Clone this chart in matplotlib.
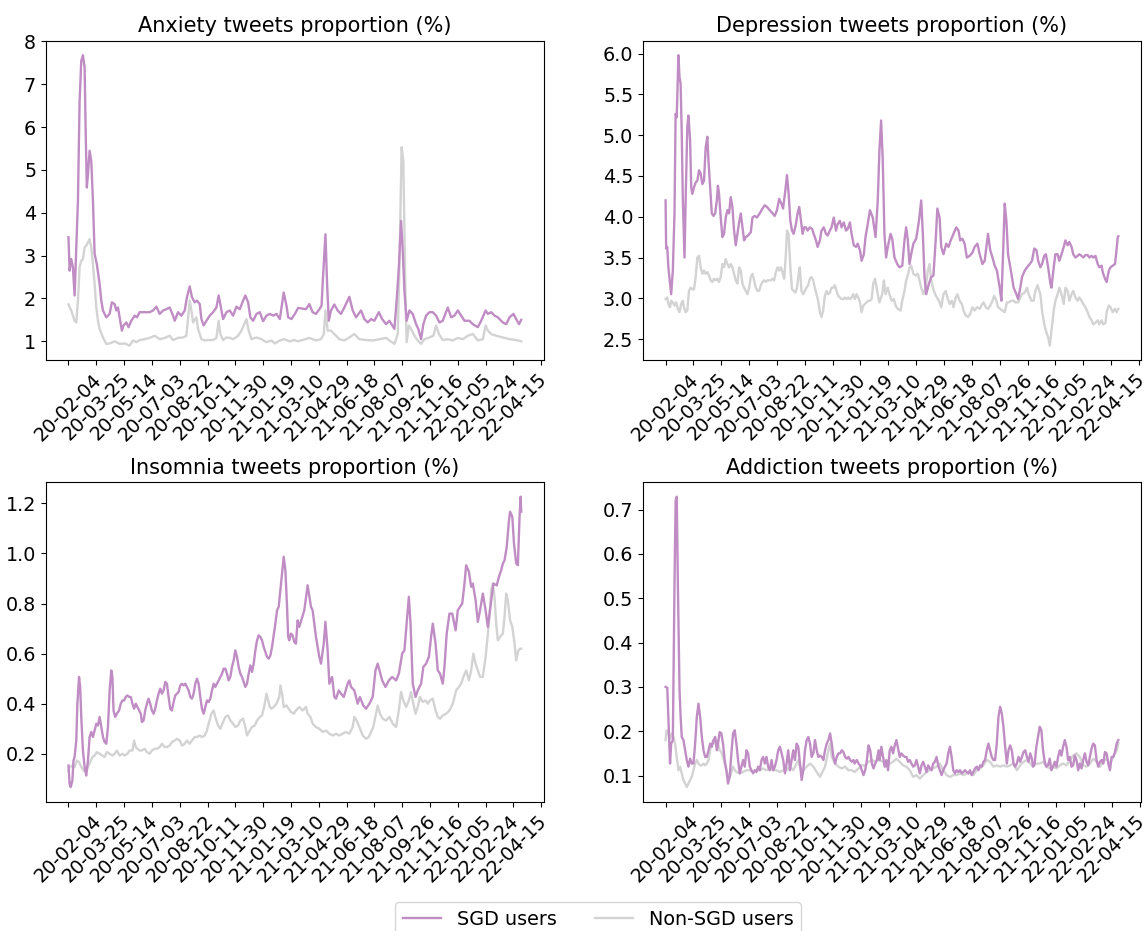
import matplotlib
matplotlib.use("Agg")
import matplotlib.pyplot as plt
import numpy as np

# x axis: day index from 2020-02-04, labels every 50 days
tick_labels = ['20-02-04', '20-03-25', '20-05-14', '20-07-03', '20-08-22', '20-10-11',
               '20-11-30', '21-01-19', '21-03-10', '21-04-29', '21-06-18', '21-08-07',
               '21-09-26', '21-11-16', '22-01-05', '22-02-24', '22-04-15']

# Anxiety
anx_sgd_day = [0, 2, 5, 8, 11, 17, 20, 23, 26, 29, 31, 33, 35, 38, 41, 44, 47, 51, 56, 59, 62, 68, 74, 78,
               83, 86, 89, 92, 96, 99, 104, 108, 113, 119, 123, 128, 134, 140, 146, 152, 158, 164, 170,
               176, 182, 188, 191, 197, 203, 209, 213, 218, 222, 227, 231, 236, 239, 243, 248, 254, 260,
               266, 270, 275, 278, 284, 290, 296, 302, 308, 314, 318, 323, 327, 332, 338, 344, 350, 356,
               362, 368, 374, 380, 383, 387, 392, 395, 401, 407, 413, 427, 433, 439, 445, 451, 455, 457,
               462, 465, 468, 472, 478, 484, 490, 496, 505, 511, 517, 526, 532, 538, 544, 550, 558, 564,
               571, 577, 586, 590, 594, 598, 601, 604, 608, 613, 619, 625, 629, 634, 638, 643, 649, 655,
               661, 667, 673, 682, 688, 694, 700, 706, 712, 721, 727, 736, 742, 750, 754, 760, 766, 772,
               781, 787, 793, 800, 805, 810, 814]
anx_sgd = [3.43, 2.65, 2.92, 2.73, 2.07, 4.28, 6.61, 7.55, 7.68, 7.39, 5.84, 4.59, 4.90, 5.45, 5.21, 4.28,
           3.04, 2.80, 2.34, 1.95, 1.72, 1.56, 1.64, 1.91, 1.87, 1.72, 1.79, 1.56, 1.25, 1.37, 1.44, 1.33,
           1.48, 1.60, 1.56, 1.68, 1.68, 1.68, 1.68, 1.72, 1.81, 1.64, 1.72, 1.75, 1.79, 1.60, 1.48, 1.68,
           1.60, 1.72, 2.03, 2.28, 2.03, 1.91, 1.95, 1.87, 1.52, 1.37, 1.48, 1.60, 1.68, 1.79, 2.07, 1.72,
           1.52, 1.68, 1.72, 1.60, 1.81, 1.75, 1.95, 2.07, 1.91, 1.56, 1.48, 1.64, 1.68, 1.47, 1.60, 1.64,
           1.60, 1.64, 1.52, 1.79, 2.14, 1.83, 1.56, 1.52, 1.64, 1.78, 1.75, 1.87, 1.68, 1.64, 1.75, 1.83,
           2.34, 3.50, 2.34, 1.48, 1.72, 1.86, 1.72, 1.64, 1.79, 2.04, 1.72, 1.56, 1.72, 1.52, 1.44, 1.52,
           1.48, 1.68, 1.52, 1.40, 1.48, 1.29, 1.95, 2.73, 3.81, 3.12, 2.18, 1.48, 1.72, 1.64, 1.40, 1.29,
           1.05, 1.40, 1.60, 1.68, 1.68, 1.60, 1.44, 1.48, 1.79, 1.56, 1.60, 1.72, 1.60, 1.48, 1.48, 1.40,
           1.33, 1.48, 1.72, 1.64, 1.68, 1.60, 1.56, 1.44, 1.40, 1.56, 1.64, 1.52, 1.40, 1.50]
anx_non_day = [0, 5, 11, 14, 17, 20, 23, 26, 29, 32, 35, 38, 41, 44, 47, 50, 53, 56, 62, 68, 74, 83, 92,
               101, 110, 116, 122, 128, 137, 146, 155, 164, 173, 182, 188, 197, 206, 212, 218, 221, 224,
               230, 233, 239, 245, 251, 260, 266, 270, 273, 278, 284, 290, 296, 305, 311, 320, 324, 329,
               338, 347, 356, 365, 371, 380, 388, 397, 406, 412, 421, 433, 445, 454, 459, 462, 466, 472,
               478, 487, 496, 505, 514, 523, 535, 547, 559, 571, 577, 586, 592, 595, 599, 602, 606, 608,
               612, 616, 622, 628, 634, 640, 649, 656, 661, 666, 673, 682, 691, 700, 709, 718, 727, 736,
               745, 750, 754, 760, 769, 781, 793, 805, 814]
anx_non = [1.86, 1.72, 1.48, 1.44, 1.95, 2.73, 2.88, 2.92, 3.19, 3.23, 3.31, 3.39, 3.19, 2.80, 2.34, 1.79,
           1.48, 1.29, 1.09, 0.94, 0.95, 1.00, 0.94, 0.95, 0.90, 1.02, 0.98, 1.03, 1.05, 1.08, 1.13, 1.05,
           1.08, 1.13, 1.03, 1.08, 1.09, 1.13, 1.95, 1.72, 1.44, 1.56, 1.29, 1.05, 1.02, 1.03, 1.03, 1.08,
           1.48, 1.17, 1.03, 1.09, 1.08, 1.05, 1.13, 1.25, 1.52, 1.25, 1.05, 1.09, 1.05, 0.98, 1.02, 0.95,
           1.02, 1.05, 1.00, 1.03, 1.00, 1.03, 1.08, 1.02, 1.05, 1.17, 1.72, 1.25, 1.25, 1.17, 1.05, 1.02,
           1.09, 1.17, 1.05, 1.03, 1.02, 1.05, 1.08, 1.02, 0.94, 1.17, 2.73, 5.53, 5.21, 1.95, 0.98, 1.37,
           1.29, 1.13, 1.02, 0.94, 1.05, 1.09, 1.13, 1.37, 1.17, 1.03, 1.05, 1.02, 1.08, 1.05, 1.13, 1.17,
           1.02, 1.05, 1.37, 1.25, 1.17, 1.13, 1.09, 1.05, 1.03, 1.00]

# Depression
dep_sgd_day = [0, 1, 3, 5, 8, 10, 13, 16, 18, 20, 22, 23, 25, 27, 29, 31, 34, 36, 39, 41, 44, 46, 48, 51,
               54, 57, 60, 63, 66, 69, 72, 75, 77, 80, 83, 86, 89, 92, 94, 96, 99, 102, 105, 108, 111, 114,
               117, 120, 123, 126, 129, 132, 135, 138, 141, 144, 148, 153, 156, 160, 164, 169, 174, 178,
               182, 187, 192, 196, 200, 204, 208, 211, 215, 218, 221, 224, 227, 230, 234, 237, 240, 243,
               246, 249, 252, 255, 259, 263, 266, 270, 273, 277, 280, 284, 288, 291, 295, 298, 302, 306,
               309, 313, 316, 320, 324, 327, 331, 334, 338, 342, 345, 349, 352, 356, 359, 363, 367, 372,
               377, 381, 384, 387, 390, 393, 396, 399, 404, 407, 411, 416, 420, 425, 429, 432, 435, 438,
               441, 445, 450, 455, 459, 462, 465, 468, 473, 477, 481, 485, 488, 492, 495, 499, 504, 508,
               512, 517, 522, 526, 529, 533, 537, 541, 546, 551, 555, 560, 564, 569, 573, 576, 579, 583,
               587, 591, 595, 600, 603, 606, 609, 612, 615, 618, 621, 625, 630, 633, 637, 640, 645, 649,
               654, 658, 662, 666, 669, 673, 676, 680, 683, 687, 691, 693, 697, 700, 704, 707, 711, 715,
               718, 722, 725, 729, 732, 736, 740, 743, 747, 750, 754, 758, 761, 765, 768, 772, 776, 779,
               783, 785, 789, 792, 796, 799, 803, 807, 809, 812, 813]
dep_sgd = [4.20, 3.61, 3.63, 3.38, 3.18, 3.05, 3.34, 4.04, 5.26, 5.22, 5.75, 5.98, 5.71, 5.63, 5.02, 4.20,
           3.50, 4.20, 5.10, 5.24, 4.94, 4.36, 4.28, 4.36, 4.42, 4.44, 4.57, 4.53, 4.40, 4.44, 4.85, 4.98,
           4.69, 4.36, 4.04, 4.01, 4.04, 4.20, 4.38, 4.28, 3.99, 3.75, 3.79, 3.99, 4.08, 4.04, 4.24, 4.12,
           3.83, 3.65, 3.79, 3.93, 4.04, 3.87, 3.71, 3.75, 3.77, 3.81, 3.99, 4.01, 3.99, 4.04, 4.10, 4.14,
           4.12, 4.08, 4.04, 4.01, 4.08, 4.22, 4.16, 4.10, 4.32, 4.51, 4.28, 3.95, 3.83, 3.79, 3.91, 4.04,
           4.12, 3.95, 3.79, 3.87, 3.87, 3.83, 3.87, 3.85, 3.79, 3.71, 3.63, 3.71, 3.83, 3.87, 3.79, 3.77,
           3.83, 3.87, 3.99, 3.83, 3.91, 3.95, 3.87, 3.93, 3.83, 3.85, 3.93, 3.79, 3.65, 3.63, 3.67, 3.59,
           3.46, 3.54, 3.75, 3.91, 4.08, 3.99, 3.75, 4.20, 4.81, 5.18, 4.69, 3.79, 3.50, 3.63, 3.79, 3.73,
           3.50, 3.42, 3.38, 3.40, 3.71, 3.87, 3.71, 3.42, 3.54, 3.67, 3.73, 3.95, 4.20, 3.79, 3.26, 3.05,
           3.18, 3.26, 3.28, 3.71, 4.10, 3.99, 3.63, 3.54, 3.67, 3.63, 3.71, 3.79, 3.87, 3.83, 3.71, 3.73,
           3.67, 3.50, 3.52, 3.56, 3.63, 3.67, 3.54, 3.42, 3.46, 3.63, 3.79, 3.59, 3.50, 3.40, 3.34, 3.13,
           2.97, 3.54, 4.16, 3.95, 3.54, 3.42, 3.30, 3.13, 3.05, 2.99, 3.13, 3.26, 3.34, 3.38, 3.42, 3.46,
           3.61, 3.59, 3.46, 3.38, 3.42, 3.52, 3.54, 3.38, 3.18, 3.13, 3.38, 3.54, 3.54, 3.46, 3.54, 3.63,
           3.71, 3.65, 3.69, 3.63, 3.54, 3.50, 3.52, 3.54, 3.52, 3.50, 3.53, 3.53, 3.50, 3.52, 3.50, 3.52,
           3.42, 3.38, 3.40, 3.32, 3.24, 3.20, 3.34, 3.38, 3.40, 3.42, 3.54, 3.75, 3.76]
dep_non_day = [0, 3, 5, 8, 10, 13, 16, 19, 22, 25, 28, 31, 33, 36, 39, 42, 45, 48, 51, 54, 57, 60, 63, 66,
               69, 72, 75, 78, 81, 84, 87, 90, 93, 96, 99, 102, 105, 108, 111, 114, 117, 120, 123, 126,
               129, 132, 135, 138, 141, 144, 147, 150, 153, 156, 159, 162, 165, 168, 171, 174, 177, 180,
               183, 186, 189, 192, 195, 198, 201, 204, 207, 210, 213, 216, 218, 221, 224, 227, 230, 233,
               236, 239, 241, 244, 247, 250, 253, 256, 259, 262, 265, 268, 271, 274, 277, 280, 283, 286,
               289, 292, 295, 298, 301, 304, 307, 310, 313, 316, 319, 322, 325, 328, 331, 334, 337, 340,
               343, 346, 349, 352, 355, 358, 361, 364, 367, 370, 373, 376, 379, 382, 384, 389, 392, 395,
               399, 402, 406, 410, 413, 417, 422, 425, 429, 432, 435, 438, 441, 445, 449, 453, 456, 459,
               463, 467, 471, 474, 477, 480, 484, 487, 491, 495, 499, 503, 506, 510, 514, 517, 521, 524,
               528, 532, 535, 539, 543, 547, 551, 555, 559, 564, 567, 571, 575, 579, 583, 587, 590, 594,
               597, 601, 605, 609, 613, 616, 621, 625, 628, 633, 637, 640, 645, 649, 652, 657, 661, 664,
               668, 673, 676, 680, 683, 687, 690, 693, 697, 700, 704, 707, 711, 715, 718, 722, 725, 729,
               732, 736, 740, 743, 747, 750, 754, 758, 761, 765, 768, 772, 776, 779, 783, 786, 790, 792,
               796, 799, 803, 807, 810, 813]
dep_non = [2.99, 3.01, 2.93, 2.89, 2.97, 2.95, 2.91, 2.95, 2.87, 2.83, 2.93, 2.97, 2.89, 2.83, 2.85, 3.09,
           3.13, 3.11, 3.11, 3.26, 3.50, 3.52, 3.38, 3.30, 3.34, 3.30, 3.32, 3.28, 3.22, 3.20, 3.24, 3.22,
           3.24, 3.20, 3.26, 3.42, 3.38, 3.48, 3.42, 3.38, 3.42, 3.38, 3.30, 3.22, 3.18, 3.38, 3.34, 3.18,
           3.13, 3.09, 3.05, 3.13, 3.26, 3.30, 3.22, 3.13, 3.09, 3.09, 3.16, 3.20, 3.22, 3.20, 3.22, 3.22,
           3.22, 3.24, 3.22, 3.32, 3.38, 3.34, 3.38, 3.32, 3.24, 3.54, 3.83, 3.79, 3.38, 3.11, 3.09, 3.07,
           3.13, 3.30, 3.38, 3.09, 3.05, 3.09, 3.13, 3.16, 3.24, 3.26, 3.22, 3.13, 3.05, 2.97, 2.83, 2.77,
           2.85, 3.03, 3.09, 3.05, 3.07, 3.13, 3.13, 3.16, 3.09, 3.03, 3.01, 2.99, 2.99, 3.01, 2.99, 3.01,
           2.99, 3.01, 3.05, 2.99, 3.05, 3.01, 2.95, 2.83, 2.91, 2.93, 2.95, 2.97, 2.97, 2.99, 3.18, 3.24,
           3.13, 3.01, 2.95, 3.05, 3.22, 3.05, 3.13, 3.05, 2.97, 2.99, 2.91, 2.87, 2.85, 2.97, 3.09, 3.22,
           3.28, 3.38, 3.40, 3.30, 3.28, 3.30, 3.22, 3.13, 3.05, 3.13, 3.34, 3.42, 3.22, 3.13, 3.05, 3.01,
           2.97, 2.89, 3.05, 3.09, 3.01, 2.93, 2.97, 2.89, 3.01, 3.05, 2.97, 2.93, 2.85, 2.79, 2.77, 2.81,
           2.89, 2.85, 2.89, 2.87, 2.91, 2.95, 2.89, 2.87, 2.91, 2.97, 3.03, 2.97, 2.89, 2.87, 2.85, 2.83,
           2.95, 2.95, 2.97, 2.97, 2.95, 2.95, 3.01, 3.05, 3.07, 3.13, 3.05, 2.97, 2.97, 3.09, 3.16, 3.05,
           2.85, 2.68, 2.60, 2.52, 2.42, 2.60, 2.85, 2.97, 3.05, 3.13, 3.05, 2.93, 3.13, 3.09, 2.97, 3.05,
           3.09, 3.01, 2.97, 3.01, 2.97, 2.93, 2.89, 2.83, 2.77, 2.73, 2.68, 2.70, 2.73, 2.68, 2.73, 2.68,
           2.70, 2.83, 2.91, 2.89, 2.83, 2.87, 2.83, 2.87]

# Insomnia
ins_sgd_day = [0, 2, 4, 7, 9, 11, 14, 16, 19, 21, 23, 26, 29, 32, 35, 38, 41, 44, 47, 50, 53, 56, 59, 62,
               65, 68, 71, 74, 77, 79, 81, 84, 87, 91, 94, 97, 100, 103, 106, 109, 112, 115, 118, 121,
               124, 127, 130, 132, 135, 138, 141, 144, 147, 150, 153, 156, 159, 162, 165, 168, 171, 174,
               177, 180, 183, 186, 189, 192, 195, 198, 201, 204, 207, 210, 213, 216, 219, 222, 225, 228,
               231, 234, 237, 240, 243, 246, 249, 252, 255, 258, 261, 264, 267, 270, 273, 276, 279, 282,
               285, 288, 291, 294, 297, 300, 303, 306, 309, 312, 315, 318, 321, 324, 327, 330, 333, 336,
               339, 342, 345, 348, 351, 354, 357, 360, 363, 366, 369, 372, 375, 378, 381, 384, 387, 390,
               393, 395, 397, 400, 403, 406, 409, 412, 415, 424, 430, 436, 439, 445, 451, 454, 459, 462,
               466, 469, 474, 478, 481, 486, 490, 495, 502, 505, 508, 514, 520, 524, 530, 535, 541, 547,
               552, 556, 564, 570, 576, 582, 589, 594, 600, 604, 608, 612, 615, 619, 624, 628, 634, 638,
               643, 648, 652, 655, 660, 664, 668, 673, 676, 680, 685, 690, 696, 700, 704, 708, 712, 715,
               720, 724, 727, 732, 736, 740, 745, 750, 754, 764, 770, 774, 778, 781, 784, 788, 792, 794,
               798, 801, 805, 808, 811, 813, 814]
ins_sgd = [0.153, 0.080, 0.067, 0.093, 0.173, 0.187, 0.253, 0.400, 0.507, 0.467, 0.347, 0.213, 0.147,
           0.113, 0.173, 0.267, 0.287, 0.267, 0.293, 0.320, 0.313, 0.347, 0.307, 0.267, 0.247, 0.240,
           0.307, 0.453, 0.533, 0.507, 0.373, 0.347, 0.360, 0.373, 0.400, 0.413, 0.413, 0.427, 0.433,
           0.427, 0.427, 0.400, 0.380, 0.400, 0.387, 0.373, 0.360, 0.327, 0.333, 0.373, 0.400, 0.420,
           0.400, 0.373, 0.360, 0.380, 0.413, 0.440, 0.460, 0.440, 0.453, 0.487, 0.480, 0.427, 0.380,
           0.373, 0.407, 0.433, 0.440, 0.447, 0.473, 0.480, 0.473, 0.480, 0.467, 0.453, 0.427, 0.420,
           0.440, 0.480, 0.500, 0.480, 0.427, 0.380, 0.360, 0.387, 0.413, 0.407, 0.420, 0.453, 0.480,
           0.467, 0.480, 0.493, 0.507, 0.520, 0.540, 0.540, 0.520, 0.493, 0.507, 0.547, 0.573, 0.613,
           0.587, 0.547, 0.520, 0.507, 0.487, 0.467, 0.480, 0.520, 0.553, 0.527, 0.560, 0.613, 0.653,
           0.673, 0.667, 0.653, 0.627, 0.607, 0.587, 0.580, 0.593, 0.627, 0.673, 0.720, 0.773, 0.787,
           0.853, 0.920, 0.987, 0.933, 0.787, 0.667, 0.653, 0.680, 0.673, 0.647, 0.640, 0.733, 0.707,
           0.773, 0.873, 0.787, 0.773, 0.667, 0.587, 0.560, 0.640, 0.727, 0.613, 0.480, 0.507, 0.427,
           0.420, 0.453, 0.440, 0.427, 0.480, 0.493, 0.467, 0.453, 0.400, 0.427, 0.393, 0.380, 0.400,
           0.427, 0.533, 0.560, 0.493, 0.467, 0.493, 0.507, 0.493, 0.520, 0.600, 0.613, 0.720, 0.827,
           0.720, 0.480, 0.427, 0.453, 0.480, 0.547, 0.560, 0.587, 0.667, 0.720, 0.640, 0.533, 0.520,
           0.480, 0.547, 0.680, 0.760, 0.760, 0.693, 0.773, 0.787, 0.800, 0.880, 0.953, 0.927, 0.867,
           0.880, 0.813, 0.727, 0.773, 0.840, 0.773, 0.707, 0.880, 0.873, 0.907, 0.933, 0.960, 0.973,
           1.027, 1.133, 1.167, 1.147, 1.040, 0.960, 0.953, 1.147, 1.227, 1.167]
ins_non_day = [0, 2, 7, 11, 15, 19, 23, 27, 31, 35, 39, 43, 47, 51, 56, 61, 65, 69, 74, 79, 83, 87, 92, 97,
               101, 106, 110, 115, 118, 121, 124, 128, 132, 137, 141, 146, 150, 155, 159, 164, 168, 173,
               177, 182, 186, 191, 195, 200, 204, 209, 213, 218, 222, 227, 231, 236, 240, 245, 249, 252,
               257, 261, 264, 269, 273, 278, 282, 287, 291, 296, 300, 305, 309, 314, 318, 321, 326, 330,
               335, 339, 344, 348, 353, 356, 359, 362, 365, 369, 374, 379, 381, 384, 387, 392, 396, 400,
               405, 409, 415, 421, 427, 430, 435, 439, 445, 451, 457, 463, 469, 475, 481, 487, 493, 499,
               505, 511, 514, 518, 523, 529, 535, 540, 544, 548, 553, 556, 560, 565, 571, 577, 583, 589,
               594, 598, 602, 607, 612, 616, 620, 624, 628, 632, 637, 642, 646, 650, 655, 660, 664, 668,
               673, 679, 685, 691, 697, 702, 706, 710, 715, 720, 724, 728, 732, 736, 740, 745, 750, 754,
               757, 760, 763, 766, 769, 772, 776, 781, 784, 787, 790, 794, 798, 802, 805, 809, 812, 814]
ins_non = [0.133, 0.147, 0.153, 0.147, 0.173, 0.167, 0.147, 0.133, 0.127, 0.147, 0.167, 0.187, 0.193,
           0.207, 0.200, 0.193, 0.187, 0.207, 0.200, 0.193, 0.200, 0.213, 0.193, 0.200, 0.193, 0.200,
           0.213, 0.213, 0.253, 0.227, 0.220, 0.213, 0.213, 0.220, 0.207, 0.200, 0.213, 0.220, 0.220,
           0.227, 0.240, 0.227, 0.227, 0.233, 0.247, 0.253, 0.260, 0.253, 0.233, 0.240, 0.253, 0.240,
           0.253, 0.267, 0.267, 0.273, 0.267, 0.273, 0.293, 0.320, 0.360, 0.373, 0.347, 0.313, 0.300,
           0.327, 0.347, 0.353, 0.333, 0.320, 0.307, 0.313, 0.333, 0.340, 0.307, 0.273, 0.293, 0.307,
           0.313, 0.333, 0.347, 0.353, 0.400, 0.440, 0.413, 0.387, 0.380, 0.387, 0.400, 0.427, 0.473,
           0.440, 0.387, 0.393, 0.380, 0.367, 0.360, 0.373, 0.387, 0.373, 0.387, 0.360, 0.347, 0.320,
           0.307, 0.300, 0.287, 0.293, 0.280, 0.273, 0.280, 0.273, 0.280, 0.287, 0.280, 0.307, 0.347,
           0.333, 0.307, 0.273, 0.260, 0.267, 0.287, 0.307, 0.360, 0.393, 0.360, 0.340, 0.333, 0.347,
           0.320, 0.307, 0.373, 0.447, 0.413, 0.387, 0.413, 0.447, 0.400, 0.360, 0.387, 0.427, 0.407,
           0.413, 0.400, 0.413, 0.420, 0.373, 0.347, 0.340, 0.353, 0.360, 0.373, 0.400, 0.453, 0.467,
           0.480, 0.507, 0.533, 0.493, 0.533, 0.600, 0.560, 0.533, 0.507, 0.507, 0.587, 0.680, 0.747,
           0.853, 0.880, 0.827, 0.720, 0.653, 0.667, 0.680, 0.747, 0.840, 0.813, 0.733, 0.707, 0.640,
           0.573, 0.613, 0.620, 0.620]

# Addiction
add_sgd_day = [0, 3, 5, 8, 10, 13, 16, 18, 20, 22, 25, 27, 29, 32, 35, 38, 41, 44, 47, 50, 53, 56, 59, 62,
               65, 68, 71, 74, 77, 80, 83, 86, 89, 92, 94, 97, 100, 103, 106, 109, 112, 115, 118, 121,
               124, 127, 130, 133, 136, 139, 142, 145, 148, 151, 154, 157, 160, 163, 166, 169, 172, 175,
               178, 181, 184, 187, 190, 193, 196, 199, 202, 205, 208, 211, 214, 217, 220, 223, 226, 229,
               232, 235, 238, 241, 244, 247, 250, 253, 256, 259, 262, 265, 268, 271, 274, 277, 280, 283,
               286, 289, 292, 295, 298, 301, 304, 307, 310, 313, 316, 319, 322, 325, 328, 331, 334, 337,
               339, 343, 346, 349, 352, 355, 358, 361, 364, 367, 370, 373, 376, 379, 382, 384, 387, 390,
               393, 396, 399, 402, 405, 408, 411, 414, 417, 420, 423, 426, 429, 432, 435, 438, 441, 444,
               447, 450, 453, 456, 459, 462, 465, 468, 471, 474, 477, 480, 483, 486, 489, 492, 495, 498,
               501, 504, 507, 510, 513, 516, 519, 522, 525, 528, 531, 534, 537, 540, 543, 546, 549, 552,
               555, 558, 561, 564, 567, 570, 573, 576, 579, 582, 585, 588, 591, 594, 597, 600, 603, 606,
               609, 612, 615, 618, 621, 624, 627, 630, 633, 636, 639, 642, 645, 648, 651, 654, 657, 659,
               662, 665, 668, 671, 674, 677, 680, 683, 686, 689, 692, 695, 698, 701, 704, 707, 710, 713,
               716, 719, 722, 725, 728, 731, 734, 737, 740, 743, 746, 749, 752, 755, 758, 761, 764, 767,
               770, 773, 776, 779, 782, 785, 788, 791, 794, 797, 800, 803, 806, 809, 812]
add_sgd = [0.300, 0.298, 0.232, 0.127, 0.172, 0.180, 0.533, 0.720, 0.729, 0.533, 0.292, 0.232, 0.187,
           0.180, 0.157, 0.135, 0.120, 0.138, 0.127, 0.127, 0.172, 0.232, 0.262, 0.232, 0.187, 0.157,
           0.142, 0.142, 0.157, 0.172, 0.165, 0.180, 0.187, 0.157, 0.172, 0.198, 0.195, 0.172, 0.135,
           0.112, 0.082, 0.097, 0.150, 0.195, 0.202, 0.172, 0.135, 0.105, 0.120, 0.135, 0.120, 0.157,
           0.150, 0.120, 0.112, 0.105, 0.112, 0.108, 0.120, 0.112, 0.135, 0.142, 0.127, 0.142, 0.120,
           0.112, 0.135, 0.112, 0.120, 0.135, 0.157, 0.165, 0.150, 0.135, 0.105, 0.127, 0.157, 0.112,
           0.135, 0.157, 0.135, 0.172, 0.165, 0.127, 0.090, 0.112, 0.157, 0.180, 0.187, 0.172, 0.142,
           0.150, 0.180, 0.157, 0.142, 0.145, 0.142, 0.135, 0.157, 0.172, 0.180, 0.195, 0.172, 0.142,
           0.127, 0.142, 0.150, 0.150, 0.157, 0.153, 0.142, 0.138, 0.142, 0.135, 0.131, 0.135, 0.127,
           0.135, 0.127, 0.123, 0.112, 0.101, 0.112, 0.135, 0.168, 0.157, 0.127, 0.116, 0.127, 0.135,
           0.157, 0.135, 0.165, 0.142, 0.120, 0.135, 0.112, 0.157, 0.165, 0.150, 0.168, 0.180, 0.161,
           0.142, 0.150, 0.145, 0.142, 0.142, 0.131, 0.135, 0.127, 0.120, 0.123, 0.135, 0.120, 0.105,
           0.123, 0.131, 0.120, 0.108, 0.123, 0.116, 0.112, 0.127, 0.131, 0.142, 0.123, 0.112, 0.101,
           0.112, 0.120, 0.127, 0.150, 0.165, 0.142, 0.112, 0.105, 0.112, 0.108, 0.112, 0.105, 0.108,
           0.112, 0.108, 0.105, 0.112, 0.101, 0.108, 0.116, 0.120, 0.112, 0.123, 0.120, 0.131, 0.135,
           0.157, 0.172, 0.157, 0.142, 0.135, 0.135, 0.172, 0.232, 0.255, 0.240, 0.210, 0.165, 0.127,
           0.157, 0.168, 0.157, 0.127, 0.120, 0.127, 0.142, 0.131, 0.142, 0.153, 0.157, 0.142, 0.131,
           0.150, 0.138, 0.120, 0.127, 0.165, 0.187, 0.210, 0.202, 0.157, 0.131, 0.120, 0.123, 0.138,
           0.112, 0.120, 0.131, 0.120, 0.142, 0.157, 0.145, 0.165, 0.180, 0.165, 0.135, 0.142, 0.120,
           0.123, 0.145, 0.135, 0.112, 0.127, 0.116, 0.135, 0.150, 0.131, 0.123, 0.142, 0.161, 0.172,
           0.168, 0.135, 0.120, 0.131, 0.135, 0.127, 0.153, 0.150, 0.127, 0.112, 0.142, 0.142, 0.153,
           0.172, 0.180]
add_non_day = [0, 2, 5, 8, 11, 14, 17, 20, 23, 26, 29, 32, 35, 38, 41, 44, 47, 50, 53, 56, 59, 62, 65, 68,
               71, 74, 77, 80, 83, 86, 89, 92, 94, 97, 100, 103, 106, 109, 112, 115, 118, 121, 124, 127,
               133, 139, 145, 151, 157, 163, 169, 175, 181, 187, 193, 199, 205, 211, 217, 223, 229, 235,
               238, 241, 247, 253, 259, 265, 271, 277, 280, 286, 292, 295, 298, 304, 310, 316, 322, 328,
               334, 339, 346, 352, 358, 364, 370, 376, 382, 390, 396, 402, 408, 414, 420, 426, 432, 438,
               444, 450, 456, 462, 468, 474, 480, 486, 492, 498, 504, 510, 516, 522, 528, 534, 540, 546,
               552, 558, 564, 570, 576, 582, 588, 594, 600, 606, 612, 618, 624, 630, 636, 642, 648, 654,
               659, 665, 671, 677, 683, 689, 695, 701, 707, 713, 719, 725, 731, 737, 743, 749, 755, 761,
               767, 773, 779, 785, 791, 797, 803, 809, 812]
add_non = [0.180, 0.202, 0.195, 0.183, 0.195, 0.187, 0.172, 0.142, 0.112, 0.120, 0.105, 0.090, 0.082,
           0.074, 0.082, 0.090, 0.097, 0.112, 0.127, 0.135, 0.127, 0.123, 0.123, 0.127, 0.123, 0.127,
           0.135, 0.157, 0.172, 0.180, 0.172, 0.180, 0.172, 0.157, 0.153, 0.142, 0.127, 0.112, 0.101,
           0.097, 0.108, 0.120, 0.112, 0.108, 0.105, 0.108, 0.112, 0.112, 0.108, 0.112, 0.112, 0.116,
           0.112, 0.116, 0.112, 0.112, 0.108, 0.112, 0.112, 0.120, 0.112, 0.127, 0.135, 0.120, 0.112,
           0.120, 0.127, 0.120, 0.108, 0.097, 0.105, 0.120, 0.157, 0.172, 0.142, 0.127, 0.120, 0.116,
           0.120, 0.112, 0.112, 0.108, 0.116, 0.123, 0.123, 0.131, 0.135, 0.131, 0.135, 0.131, 0.120,
           0.127, 0.131, 0.138, 0.131, 0.123, 0.120, 0.112, 0.097, 0.101, 0.093, 0.101, 0.108, 0.112,
           0.116, 0.120, 0.127, 0.112, 0.101, 0.097, 0.101, 0.101, 0.105, 0.101, 0.105, 0.105, 0.101,
           0.112, 0.116, 0.123, 0.135, 0.131, 0.120, 0.123, 0.120, 0.123, 0.120, 0.123, 0.127, 0.112,
           0.123, 0.131, 0.135, 0.127, 0.120, 0.127, 0.127, 0.131, 0.120, 0.116, 0.120, 0.116, 0.123,
           0.127, 0.123, 0.135, 0.145, 0.150, 0.142, 0.123, 0.120, 0.127, 0.138, 0.131, 0.120, 0.131,
           0.138, 0.127, 0.142, 0.157, 0.172]

panels = [
    ('Anxiety tweets proportion (%)', anx_sgd_day, anx_sgd, anx_non_day, anx_non),
    ('Depression tweets proportion (%)', dep_sgd_day, dep_sgd, dep_non_day, dep_non),
    ('Insomnia tweets proportion (%)', ins_sgd_day, ins_sgd, ins_non_day, ins_non),
    ('Addiction tweets proportion (%)', add_sgd_day, add_sgd, add_non_day, add_non),
]

sgd_color = '#C08CC4'
non_color = '#D3D3D3'

fig, axes = plt.subplots(2, 2, figsize=(11.46, 9.31), dpi=100)
fig.subplots_adjust(left=0.040, right=0.9956, top=0.9563, bottom=0.139, wspace=0.199, hspace=0.382)

ticks = np.arange(0, 50 * (len(tick_labels) + 1), 50)
for ax, (title, sday, sval, nday, nval) in zip(axes.flat, panels):
    ax.plot(sday, sval, color=sgd_color, lw=1.7, label='SGD users', zorder=3)
    ax.plot(nday, nval, color=non_color, lw=1.7, label='Non-SGD users', zorder=2)
    ax.set_title(title, fontsize=15)
    ax.set_xticks(ticks)
    ax.set_xticklabels(tick_labels + [''], rotation=45)
    ax.tick_params(labelsize=13.8)

handles, labels = axes[0, 0].get_legend_handles_labels()
fig.legend(handles, labels, loc='upper center', bbox_to_anchor=(0.522, 0.031),
           borderaxespad=0, ncol=2, fontsize=13.8)

fig.savefig('out.png', dpi=100)
